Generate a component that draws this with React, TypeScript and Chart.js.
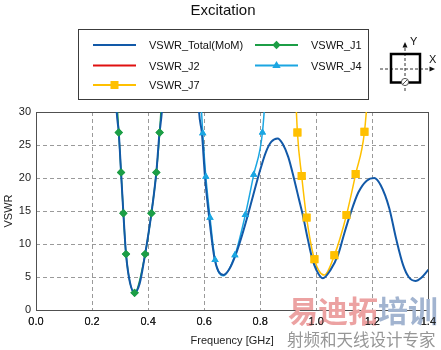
import React, { useEffect, useRef } from "react";
import { Chart, registerables } from "chart.js";

Chart.register(...registerables);

const FONT = "'Liberation Sans', Arial, sans-serif";
const CJK = "'Noto Sans CJK SC', sans-serif";

// axis ticks
const xTickValues = [0, 0.2, 0.4, 0.6, 0.8, 1.0, 1.2, 1.4];
const yTickValues = [0, 5, 10, 15, 20, 25, 30];

// watermark texts
const watermarkA = "易迪拓";
const watermarkB = "培训";
const watermarkSub = "射频和天线设计专家";

// VSWR_Total(MoM)
const totalFreq = [
  0.27, 0.288, 0.2953, 0.3035, 0.3118, 0.3212, 0.3351, 0.3518, 0.37, 0.3894, 0.4118, 0.4294, 0.44, 0.449, 0.47,
  0.52, 0.57, 0.582, 0.592, 0.603, 0.618, 0.638, 0.669, 0.69, 0.712, 0.735, 0.756, 0.775, 0.795, 0.82, 0.84,
  0.862, 0.88, 0.9, 0.92, 0.937, 0.954, 0.97, 0.985, 1.0, 1.0235, 1.05, 1.079, 1.1, 1.122, 1.15, 1.18, 1.207,
  1.23, 1.26, 1.285, 1.31, 1.33, 1.354, 1.375, 1.4,
];
const totalVswr = [
  48, 30, 26.9, 20.85, 14.65, 8.47, 4.2, 2.6, 4.0, 8.47, 14.65, 20.85, 26.5, 30, 45,
  70, 42, 30, 26.8, 20.2, 14.0, 7.6, 5.3, 6.2, 8.3, 11.3, 14.4, 17.4, 20.5, 23.9, 25.5,
  26.0, 25.2, 23.2, 20.0, 17.0, 14.0, 10.7, 7.9, 6.1, 4.8, 6.0, 8.5, 11.6, 14.6, 17.8, 19.6, 20.0,
  18.9, 15.5, 10.8, 6.8, 5.0, 4.4, 4.9, 6.1,
];

// VSWR_J1
const j1Freq = [0.275, 0.2953, 0.3035, 0.3118, 0.3212, 0.3518, 0.3894, 0.4118, 0.4294, 0.4412, 0.46];
const j1Vswr = [42, 26.9, 20.85, 14.65, 8.47, 2.6, 8.47, 14.65, 20.85, 26.9, 42];
const j1MarkerIdx = [1, 2, 3, 4, 5, 6, 7, 8, 9];

// VSWR_J2 (not visible in the plotted range)
const j2Freq: number[] = [];
const j2Vswr: number[] = [];
const j2MarkerIdx: number[] = [];

// VSWR_J4
const j4Freq = [0.575, 0.595, 0.606, 0.621, 0.639, 0.668, 0.7098, 0.7468, 0.7769, 0.808, 0.83];
const j4Vswr = [42, 26.8, 20.2, 14.0, 7.6, 5.2, 8.3, 14.4, 20.5, 26.9, 40];
const j4MarkerIdx = [1, 2, 3, 4, 6, 7, 8, 9];

// VSWR_J7
const j7Freq = [0.915, 0.9328, 0.948, 0.9655, 0.9935, 1.028, 1.0647, 1.1079, 1.1406, 1.172, 1.2];
const j7Vswr = [45, 26.9, 20.3, 14.0, 7.7, 5.3, 8.3, 14.4, 20.6, 27.0, 42];
const j7MarkerIdx = [1, 2, 3, 4, 6, 7, 8, 9];

const BLUE = "#1259a8";
const GREEN = "#1c9e46";
const RED = "#e01010";
const CYAN = "#1ba6e2";
const YELLOW = "#ffc000";

type Marker = "none" | "rectRot" | "triangle" | "rect";

const series: { name: string; freq: number[]; vswr: number[]; markers: number[]; color: string; marker: Marker; width: number }[] = [
  { name: "VSWR_Total(MoM)", freq: totalFreq, vswr: totalVswr, markers: [], color: BLUE, marker: "none", width: 2 },
  { name: "VSWR_J1", freq: j1Freq, vswr: j1Vswr, markers: j1MarkerIdx, color: GREEN, marker: "rectRot", width: 1.5 },
  { name: "VSWR_J2", freq: j2Freq, vswr: j2Vswr, markers: j2MarkerIdx, color: RED, marker: "none", width: 1.5 },
  { name: "VSWR_J4", freq: j4Freq, vswr: j4Vswr, markers: j4MarkerIdx, color: CYAN, marker: "triangle", width: 1.5 },
  { name: "VSWR_J7", freq: j7Freq, vswr: j7Vswr, markers: j7MarkerIdx, color: YELLOW, marker: "rect", width: 1.5 },
];

const markerRadius: Record<Marker, number> = { none: 0, rectRot: 4.2, triangle: 4.2, rect: 5.6 };

const framePlugin = {
  id: "frame",
  beforeDatasetsDraw(chart: any) {
    const { ctx, chartArea: a } = chart;
    ctx.save();
    ctx.strokeStyle = "#505050";
    ctx.lineWidth = 1;
    ctx.strokeRect(Math.round(a.left) + 0.5, Math.round(a.top) + 0.5, Math.round(a.right - a.left), Math.round(a.bottom - a.top));
    ctx.restore();
  },
  afterDatasetsDraw(chart: any) {
    const { ctx, chartArea } = chart;
    chart.data.datasets.forEach((_: any, i: number) => {
      const meta = chart.getDatasetMeta(i);
      if (meta.hidden) return;
      meta.data.forEach((p: any) => p.draw(ctx, chartArea));
    });
  },
  afterDraw(chart: any) {
    const { ctx } = chart;
    ctx.save();
    ctx.textBaseline = "alphabetic";
    ctx.textAlign = "left";
    ctx.font = `700 30px ${CJK}`;
    ctx.fillStyle = "rgb(236,162,162)";
    ctx.fillText(watermarkA, 288, 322);
    const w = ctx.measureText(watermarkA).width;
    ctx.fillStyle = "rgb(162,180,208)";
    ctx.fillText(watermarkB, 288 + w, 322);
    ctx.font = `400 16.5px ${CJK}`;
    ctx.fillStyle = "rgb(150,150,150)";
    ctx.fillText(watermarkSub, 287, 346);
    ctx.restore();
    // tick labels sit above the watermark
    chart.scales.x.drawLabels(chart.chartArea);
  },
};

function MarkerGlyph({ kind, x, y, color }: { kind: Marker; x: number; y: number; color: string }) {
  if (kind === "rectRot") return <polygon points={`${x},${y - 4.2} ${x + 4.2},${y} ${x},${y + 4.2} ${x - 4.2},${y}`} fill={color} />;
  if (kind === "triangle") return <polygon points={`${x},${y - 4.5} ${x + 4.2},${y + 2.6} ${x - 4.2},${y + 2.6}`} fill={color} />;
  if (kind === "rect") return <rect x={x - 4} y={y - 4} width={8} height={8} fill={color} />;
  return null;
}

export default function App() {
  const ref = useRef<HTMLCanvasElement | null>(null);

  useEffect(() => {
    if (!ref.current) return;
    const tickFont = { size: 11, family: FONT };
    const chart = new Chart(ref.current, {
      type: "line",
      data: {
        datasets: series.map((s) => ({
          label: s.name,
          data: s.freq.map((x, i) => ({ x, y: s.vswr[i] })),
          borderColor: s.color,
          backgroundColor: s.color,
          borderWidth: s.width,
          fill: false,
          cubicInterpolationMode: "monotone" as const,
          pointStyle: s.marker === "none" ? "circle" : s.marker,
          pointRadius: s.freq.map((_, i) => (s.markers.includes(i) ? markerRadius[s.marker] : 0)),
          pointHoverRadius: 0,
          pointBorderWidth: 0,
          pointBackgroundColor: s.color,
          pointBorderColor: s.color,
        })),
      },
      options: {
        responsive: false,
        maintainAspectRatio: false,
        animation: false,
        events: [],
        layout: { padding: { top: 112, right: 9, left: 0, bottom: 0 } },
        plugins: { legend: { display: false }, title: { display: false }, tooltip: { enabled: false } },
        scales: {
          x: {
            type: "linear",
            min: 0,
            max: 1.4,
            afterBuildTicks: (s: any) => {
              s.ticks = xTickValues.map((v) => ({ value: v }));
            },
            ticks: {
              callback: (v: any) => Number(v).toFixed(1),
              color: "#222",
              font: tickFont,
              padding: 5,
              maxRotation: 0,
              autoSkip: false,
            },
            grid: { color: "#9a9a9a", drawTicks: false, lineWidth: 1 },
            border: { display: false, dash: [4, 3] },
            title: { display: true, text: "Frequency [GHz]", color: "#222", font: tickFont, padding: { top: 0, bottom: 2 } },
            afterFit: (s: any) => {
              s.height = 40;
            },
          },
          y: {
            type: "linear",
            min: 0,
            max: 30,
            afterBuildTicks: (s: any) => {
              s.ticks = yTickValues.map((v) => ({ value: v }));
            },
            ticks: { color: "#222", font: tickFont, padding: 5 },
            grid: { color: "#9a9a9a", drawTicks: false, lineWidth: 1 },
            border: { display: false, dash: [4, 3] },
            title: { display: true, text: "VSWR", color: "#222", font: tickFont, padding: { top: 2, bottom: 0 } },
            afterFit: (s: any) => {
              s.width = 36;
            },
          },
        },
      },
      plugins: [framePlugin],
    } as any);
    return () => chart.destroy();
  }, []);

  const legendCols = [93, 255];
  const legendRows = [45, 65.5, 85];

  return (
    <div style={{ position: "absolute", left: 0, top: 0, width: 441, height: 350, background: "#fff", overflow: "hidden" }}>
      <canvas ref={ref} width={441} height={350} style={{ position: "absolute", left: 0, top: 0, width: 441, height: 350 }} />
      <svg width={441} height={350} style={{ position: "absolute", left: 0, top: 0, pointerEvents: "none" }}>
        <text x={223} y={15} textAnchor="middle" fontFamily={FONT} fontSize={15} fill="#111">
          Excitation
        </text>
        <rect x={78.5} y={29.5} width={290} height={70} fill="#fff" stroke="#3c3c3c" strokeWidth={1} />
        {series.map((s, i) => {
          const x = legendCols[i % 2];
          const y = legendRows[Math.floor(i / 2)];
          return (
            <g key={s.name}>
              <line x1={x} y1={y} x2={x + 43} y2={y} stroke={s.color} strokeWidth={2} />
              <MarkerGlyph kind={s.marker} x={x + 21.5} y={y} color={s.color} />
              <text x={x + 56} y={y + 4} fontFamily={FONT} fontSize={11} fill="#111">
                {s.name}
              </text>
            </g>
          );
        })}
        {/* port geometry inset */}
        <line x1={380} y1={69} x2={431} y2={69} stroke="#333" strokeWidth={1} strokeDasharray="3,2" />
        <polygon points="435,69 429.5,66.5 429.5,71.5" fill="#111" />
        <line x1={405} y1={91} x2={405} y2={46} stroke="#333" strokeWidth={1} strokeDasharray="3,2" />
        <polygon points="405,42 402.5,47.5 407.5,47.5" fill="#111" />
        <rect x={391} y={54} width={29} height={28.5} fill="none" stroke="#000" strokeWidth={2.5} />
        <circle cx={405} cy={82} r={3.6} fill="#fff" stroke="#555" strokeWidth={1} />
        <line x1={402.5} y1={84.5} x2={407.5} y2={79.5} stroke="#555" strokeWidth={1} />
        <text x={410} y={45} fontFamily={FONT} fontSize={11} fill="#111">Y</text>
        <text x={429} y={63} fontFamily={FONT} fontSize={11} fill="#111">X</text>
      </svg>
    </div>
  );
}
